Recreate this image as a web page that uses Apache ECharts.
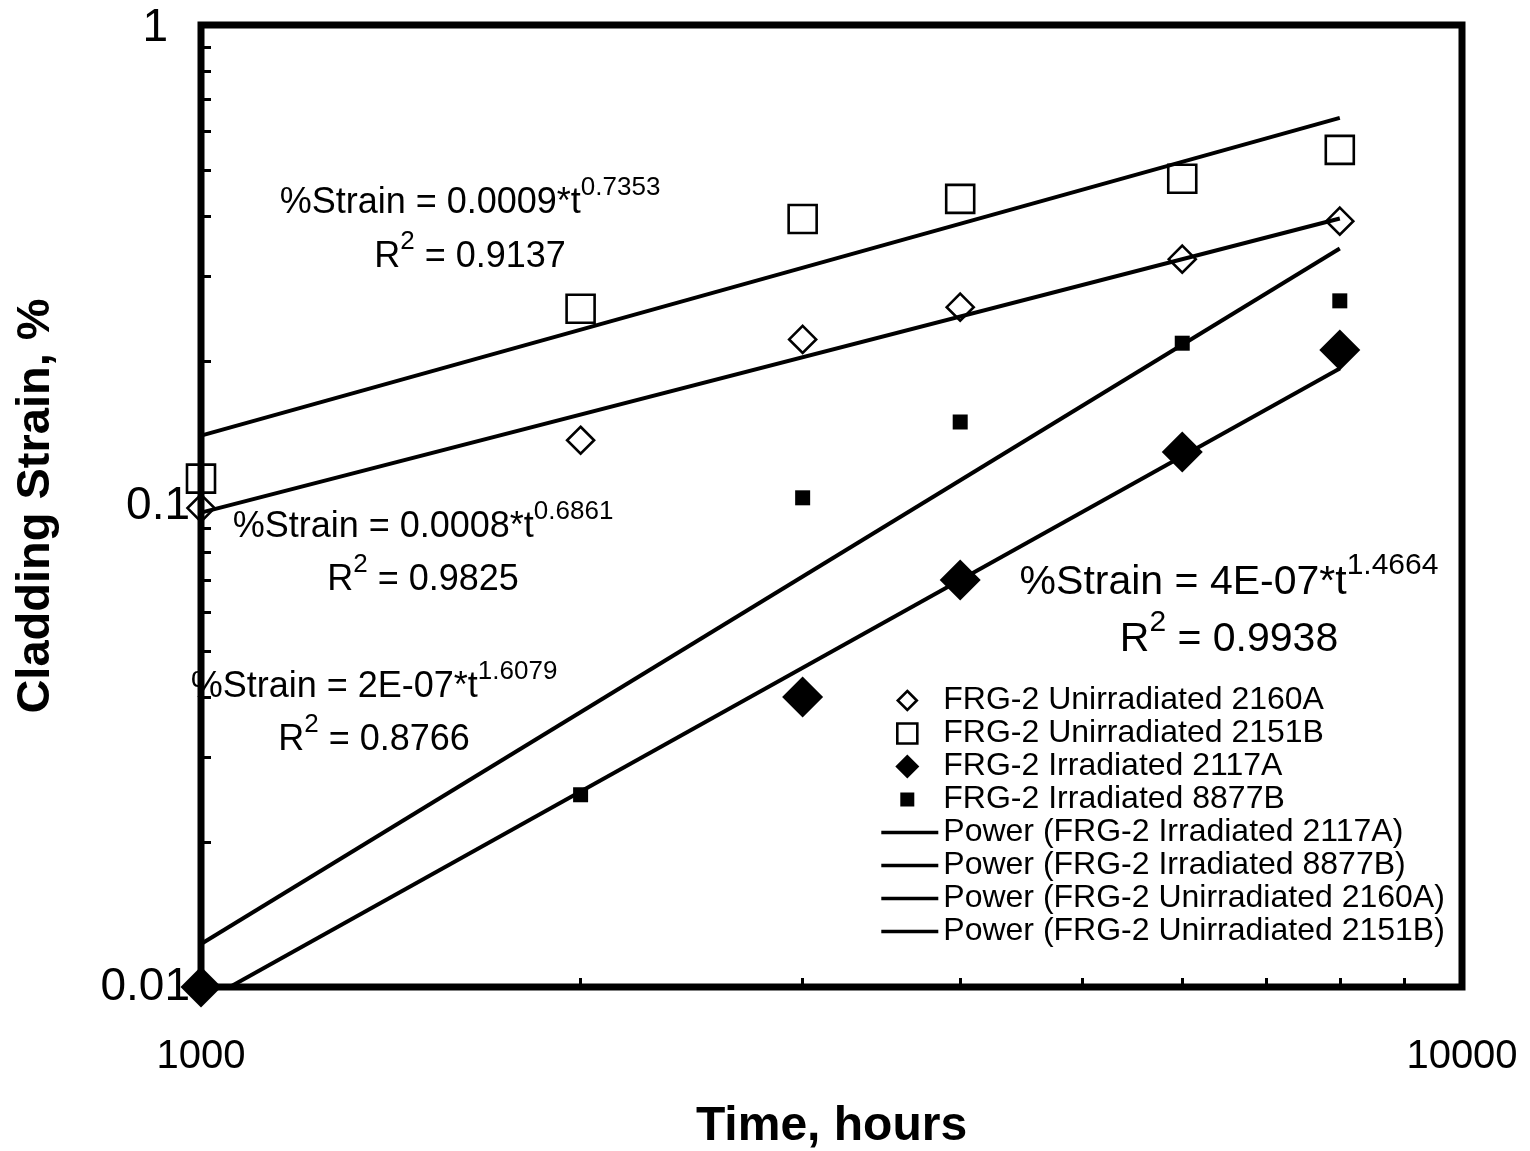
<!DOCTYPE html>
<html><head><meta charset="utf-8">
<script src="https://cdn.jsdelivr.net/npm/echarts@6/dist/echarts.min.js"></script>
<style>html,body{margin:0;padding:0;background:#fff}#c{width:1530px;height:1151px}</style>
</head><body><div id="c"></div>
<script>
// ---- data ----
const timeHours  = [1000, 2000, 3000, 4000, 6000, 8000];
const unirr2160A = [0.099, 0.137, 0.222, 0.259, 0.326, 0.391];
const unirr2151B = [0.114, 0.257, 0.395, 0.435, 0.479, 0.550];
const irr2117A   = [0.0100, null, 0.0401, 0.0702, 0.1295, 0.211];
const irr8877B   = [null, 0.0251, 0.104, 0.1495, 0.218, 0.267];
// power-law trend lines (end points)
const trendTimes  = [1000, 8000];
const trend2117A  = [0.00926, 0.1931];
const trend8877B  = [0.01229, 0.343];
const trend2160A  = [0.0969, 0.396];
const trend2151B  = [0.1401, 0.641];
// ticks and labels
const xLabelValues = [1000, 10000];
const yLabelValues = [0.01, 0.1, 1];
const xTickValues  = [2000, 3000, 4000, 5000, 6000, 7000, 8000, 9000];
const yTickValues  = [0.02,0.03,0.04,0.05,0.06,0.07,0.08,0.09,0.2,0.3,0.4,0.5,0.6,0.7,0.8,0.9];
// names
const seriesNames = ['FRG-2 Unirradiated 2160A','FRG-2 Unirradiated 2151B','FRG-2 Irradiated 2117A','FRG-2 Irradiated 8877B'];
const trendNames  = ['Power (FRG-2 Irradiated 2117A)','Power (FRG-2 Irradiated 8877B)','Power (FRG-2 Unirradiated 2160A)','Power (FRG-2 Unirradiated 2151B)'];
const equations = [
  {main:'%Strain = 0.0009*t', sup:'0.7353', r2:'0.9137'},
  {main:'%Strain = 0.0008*t', sup:'0.6861', r2:'0.9825'},
  {main:'%Strain = 2E-07*t',  sup:'1.6079', r2:'0.8766'},
  {main:'%Strain = 4E-07*t',  sup:'1.4664', r2:'0.9938'}
];

const FF = "'Liberation Sans', Arial, Helvetica, sans-serif";
function pairs(xs, ys){ const out=[]; xs.forEach((x,i)=>{ if(ys[i]!=null) out.push([x, ys[i]]); }); return out; }
function fmt(v){ return String(+(+v).toPrecision(6)); }
function fmtY(v){ const s = fmt(v); return s === '1' ? '{p|1}' : s; }

const openStyle = {color:'rgba(0,0,0,0)', borderColor:'#000', borderWidth:2.6, opacity:1};
const fillStyle = {color:'#000', borderColor:'#000', borderWidth:0, opacity:1};

const scatterDefs = [
  {name:seriesNames[0], ys:unirr2160A, symbol:'diamond', size:27, style:openStyle,
   icon:'path://M0 0M57 24M26 2.5L35.5 12L26 21.5L16.5 12Z'},
  {name:seriesNames[1], ys:unirr2151B, symbol:'rect', size:28, style:openStyle,
   icon:'path://M0 0M57 24M16 2H36V22H16Z'},
  {name:seriesNames[2], ys:irr2117A, symbol:'diamond', size:41, style:fillStyle,
   icon:'path://M0 0M57 24M26 0L38 12L26 24L14 12Z'},
  {name:seriesNames[3], ys:irr8877B, symbol:'rect', size:15, style:fillStyle,
   icon:'path://M0 0M57 24M19 5H33V19H19Z'}
];
const trendDefs = [
  {name:trendNames[0], ys:trend2117A},
  {name:trendNames[1], ys:trend8877B},
  {name:trendNames[2], ys:trend2160A},
  {name:trendNames[3], ys:trend2151B}
];

const series = [];
trendDefs.forEach(d=>series.push({
  type:'line', name:d.name, data:pairs(trendTimes, d.ys), symbol:'none', showSymbol:false,
  lineStyle:{color:'#000', width:4, opacity:1}, itemStyle:{color:'#000', opacity:1}, z:3, clip:true,
  emphasis:{disabled:true}, silent:true
}));
scatterDefs.forEach(d=>series.push({
  type:'scatter', name:d.name, data:pairs(timeHours, d.ys), symbol:d.symbol, symbolSize:d.size,
  itemStyle:d.style, z:5, clip:false, emphasis:{disabled:true}, silent:true
}));

const lineIcon = 'path://M0 0M57 24M0 10.3H57V13.7H0Z';
const legendData = scatterDefs.map(d=>({name:d.name, icon:d.icon, itemStyle:d.style}))
  .concat(trendDefs.map(d=>({name:d.name, icon:lineIcon,
    itemStyle:{color:'#000', borderWidth:0, opacity:1}})));

// equation annotations (centre x, line centre y, font sizes)
const eqLayout = [
  {cx:470,  y1:203, y2:257, fs:36, sfs:26, raise:30},
  {cx:423,  y1:527, y2:580, fs:36, sfs:26, raise:30},
  {cx:374,  y1:687, y2:740, fs:36, sfs:26, raise:30},
  {cx:1229, y1:583, y2:640, fs:41, sfs:30, raise:34}
];
const graphics = [];
equations.forEach((e,i)=>{
  const L = eqLayout[i];
  const rich = {
    m:{fontSize:L.fs, fontFamily:FF, fill:'#000', lineHeight:L.fs, verticalAlign:'middle'},
    s:{fontSize:L.sfs, fontFamily:FF, fill:'#000', lineHeight:L.sfs, padding:[0,0,L.raise,0], verticalAlign:'middle'}
  };
  graphics.push({type:'text', x:L.cx, y:L.y1, z:10, silent:true, style:{
    text:'{m|'+e.main+'}{s|'+e.sup+'}', rich:rich, align:'center', verticalAlign:'middle',
    textAlign:'center', textVerticalAlign:'middle'}});
  graphics.push({type:'text', x:L.cx, y:L.y2, z:10, silent:true, style:{
    text:'{m|R}{s|2}{m| = '+e.r2+'}', rich:rich, align:'center', verticalAlign:'middle',
    textAlign:'center', textVerticalAlign:'middle'}});
});

const chart = echarts.init(document.getElementById('c'), null, {renderer:'canvas'});
chart.setOption({
  animation:false,
  backgroundColor:'#fff',
  textStyle:{fontFamily:FF},
  grid:{left:201, right:68, top:25, bottom:164, show:true, borderColor:'#000', borderWidth:7,
        backgroundColor:'rgba(0,0,0,0)', containLabel:false, outerBoundsMode:'none'},
  xAxis:{
    type:'log', logBase:10, min:1000, max:10000,
    name:'Time, hours', nameLocation:'middle', nameGap:116,
    nameTextStyle:{fontSize:48, fontWeight:'bold', fontFamily:FF, color:'#000'},
    axisLine:{show:false},
    axisTick:{show:true, inside:true, length:9, lineStyle:{color:'#000', width:3}, customValues:xTickValues},
    minorTick:{show:false}, splitLine:{show:false}, minorSplitLine:{show:false},
    axisLabel:{customValues:xLabelValues, formatter:fmt, fontSize:40, fontFamily:FF, color:'#000', margin:50}
  },
  yAxis:{
    type:'log', logBase:10, min:0.01, max:1,
    name:'Cladding Strain, %', nameLocation:'middle', nameGap:141,
    nameTextStyle:{fontSize:47, fontWeight:'bold', fontFamily:FF, color:'#000'},
    axisLine:{show:false},
    axisTick:{show:true, inside:true, length:10, lineStyle:{color:'#000', width:3}, customValues:yTickValues},
    minorTick:{show:false}, splitLine:{show:false}, minorSplitLine:{show:false},
    axisLabel:{customValues:yLabelValues, formatter:fmtY, fontSize:46, fontFamily:FF, color:'#000', margin:11,
      rich:{p:{fontSize:46, fontFamily:FF, color:'#000', padding:[6,22,0,0]}}}
  },
  legend:{
    orient:'vertical', left:880, top:684, padding:0, itemGap:0, itemWidth:57, itemHeight:24,
    selectedMode:false, data:legendData,
    textStyle:{fontSize:32, fontFamily:FF, color:'#000', lineHeight:33}
  },
  graphic:graphics,
  series:series
});
</script>
</body></html>
